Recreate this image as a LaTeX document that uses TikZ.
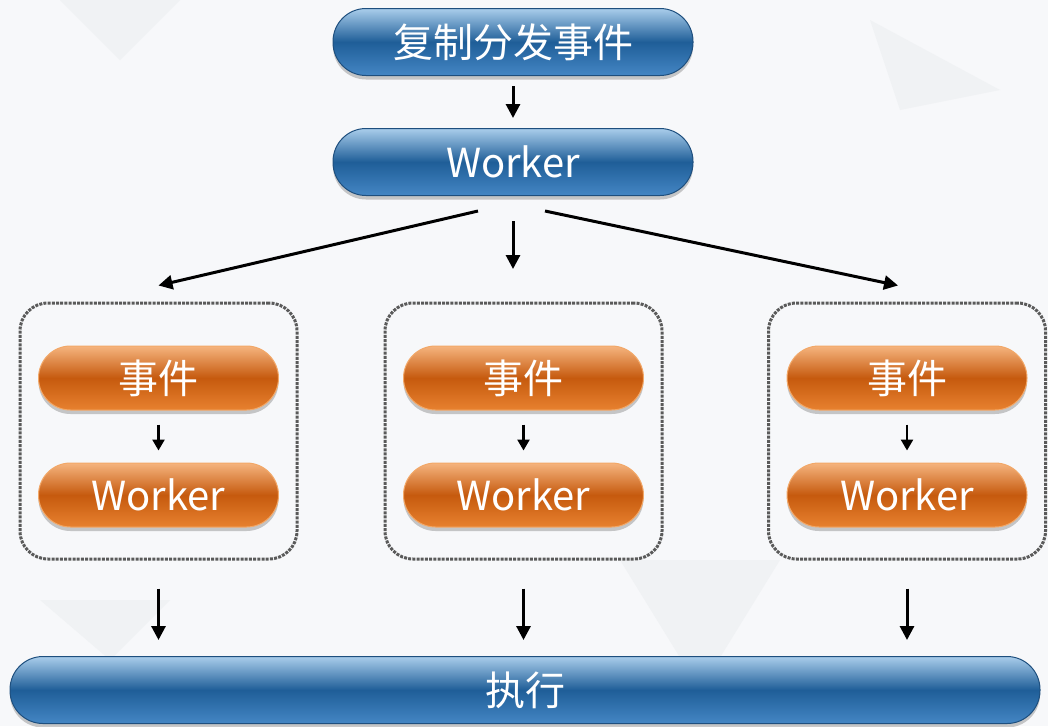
\documentclass[tikz,border=0pt]{standalone}
\usepackage{fontspec}
\setmainfont{Noto Sans CJK SC}
\usetikzlibrary{arrows.meta,calc,shadows}

\definecolor{bgcol}{HTML}{F7F8FA}
\definecolor{bgtri}{HTML}{F0F2F4}
\definecolor{bluetop}{HTML}{A9CDEB}
\definecolor{bluemid}{HTML}{1F5E98}
\definecolor{bluebot}{HTML}{4486C4}
\definecolor{blueline}{HTML}{1E4F7E}
\definecolor{orgtop}{HTML}{F5B47E}
\definecolor{orgmid}{HTML}{C65A0E}
\definecolor{orgbot}{HTML}{E7812F}
\definecolor{orgline}{HTML}{F2A868}
\definecolor{dotline}{HTML}{5A5A5A}

\tikzset{
  pill/.style={rectangle, rounded corners=33pt, inner sep=0pt,
    minimum height=67pt, text=white,
    font=\fontsize{40}{40}\selectfont,
    drop shadow={shadow xshift=0pt, shadow yshift=-4pt, opacity=0.35, fill=black!60}},
  bluepill/.style={pill, draw=blueline, line width=1pt,
    top color=bluetop, bottom color=bluebot, middle color=bluemid},
  orangepill/.style={pill, draw=orgline, line width=1pt, minimum width=240pt,
    minimum height=64pt, rounded corners=32pt,
    top color=orgtop, bottom color=orgbot, middle color=orgmid},
  groupbox/.style={rectangle, draw=dotline, line width=3pt,
    dash pattern=on 3pt off 1.2pt, rounded corners=28pt,
    minimum width=277pt, minimum height=256pt},
  arr/.style={line width=3pt, -{Triangle[length=14pt,width=14pt]}},
  smallarr/.style={line width=2.5pt, -{Triangle[length=11pt,width=12pt]}}
}

\begin{document}
\begin{tikzpicture}[x=1pt,y=-1pt]
  % backdrop with faint decorative triangles
  \fill[bgcol] (0,0) rectangle (1048,726);
  \useasboundingbox (0,0) rectangle (1048,726);
  \fill[bgtri] (60,0) -- (180,0) -- (120,60) -- cycle;
  \fill[bgtri] (870,20) -- (1000,90) -- (900,110) -- cycle;
  \fill[bgtri] (620,560) -- (780,560) -- (700,690) -- cycle;
  \fill[bgtri] (40,600) -- (170,600) -- (110,660) -- cycle;

  % top chain
  \node[bluepill, minimum width=360pt] (dispatch) at (513,42) {复制分发事件};
  \node[bluepill, minimum width=360pt] (worker) at (513,162) {Worker};

  % three groups
  \foreach \i/\x in {1/158.5, 2/523.5, 3/907} {
    \node[groupbox] (box\i) at (\x,431) {};
    \node[orangepill] (ev\i) at (\x,378) {事件};
    \node[orangepill] (wk\i) at (\x,495) {Worker};
    \draw[smallarr] ($(ev\i.south)+(0,14)$) -- ($(wk\i.north)+(0,-12)$);
  }

  % execution bar
  \node[bluepill, minimum width=1030pt] (exec) at (525,690) {执行};

  % connectors
  \draw[arr] ($(dispatch.south)+(0,10)$) -- ($(worker.north)+(0,-10)$);
  \draw[arr] ($(worker.south)+(-35,15)$) -- ($(box1.north)+(0,-16)$);
  \draw[arr] ($(worker.south)+(0,25)$) -- ($(worker.south)+(0,73)$);
  \draw[arr] ($(worker.south)+(32,15)$) -- ($(box3.north)+(-9,-16)$);
  \foreach \i in {1,2,3} {
    \draw[arr] ($(box\i.south)+(0,28)$) -- ($(box\i.south |- exec.north)+(0,-16)$);
  }
\end{tikzpicture}
\end{document}
